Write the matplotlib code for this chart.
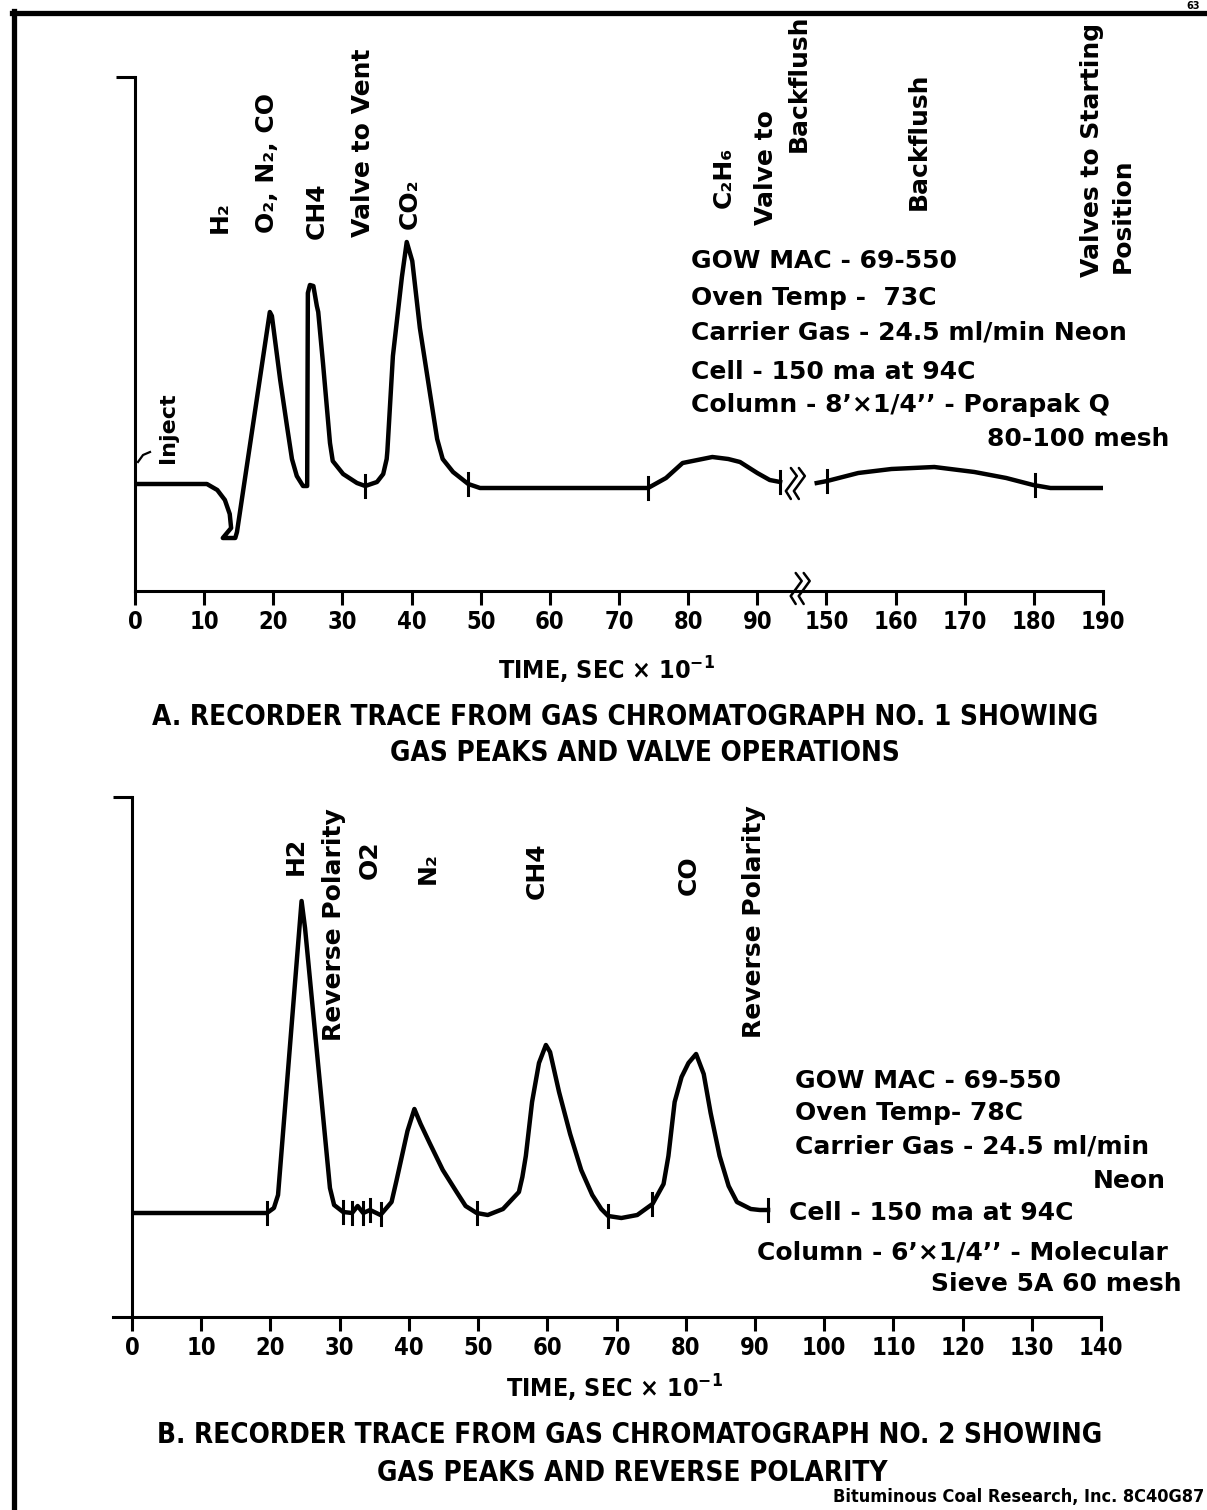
import numpy as np
import matplotlib
matplotlib.use("Agg")
import matplotlib.pyplot as plt
from matplotlib import font_manager

W, H = 1207, 1510

# ---- chart A: GC no. 1, time in sec x 10^-1, response
a_time_1 = [0, 10.4, 11.9, 13.0, 13.7, 13.9, 12.7, 14.5, 14.75, 19.5, 19.8, 21.0, 22.0, 22.7,
            23.4, 24.3, 24.9, 25.0, 25.3, 25.8, 26.3, 26.5, 27.2, 28.2, 28.6, 30.1, 32.1, 33.3,
            35.0, 35.9, 36.4, 36.5, 37.3, 38.6, 39.3, 40.1, 41.2, 42.7, 43.7, 44.5, 46.0, 48.2,
            49.9, 74.2, 76.8, 79.2, 83.5, 85.8, 87.5, 90.0, 91.8, 93.3]
a_resp_1 = [0.02, 0.02, -0.04, -0.14, -0.28, -0.42, -0.52, -0.52, -0.46, 1.74, 1.70, 1.06, 0.59, 0.27,
            0.10, 0.0, 0.0, 1.93, 2.01, 2.00, 1.80, 1.74, 1.22, 0.43, 0.25, 0.12, 0.03, 0.0,
            0.04, 0.12, 0.27, 0.35, 1.30, 2.09, 2.44, 2.25, 1.58, 0.91, 0.47, 0.27, 0.14, 0.02,
            -0.02, -0.02, 0.08, 0.23, 0.29, 0.27, 0.24, 0.13, 0.06, 0.04]
a_time_2 = [148.6, 150.1, 154.6, 159.4, 165.6, 171.4, 176.0, 179.9, 182.4, 190.0]
a_resp_2 = [0.03, 0.05, 0.13, 0.17, 0.19, 0.14, 0.08, 0.01, -0.02, -0.02]
a_marks = [33.3, 48.2, 74.2, 93.3, 150.1, 180.2]
a_ticks = [0, 10, 20, 30, 40, 50, 60, 70, 80, 90, 150, 160, 170, 180, 190]
a_break = 95.0   # where the time scale jumps from 90 to 150

# ---- chart B: GC no. 2
b_time = [0, 19.5, 20.5, 21.1, 22.8, 24.5, 25.0, 28.6, 29.2, 30.5, 31.8, 32.6, 33.4, 34.4,
          35.9, 37.5, 38.2, 39.8, 40.8, 41.7, 43.0, 44.9, 46.9, 48.2, 49.8, 51.4, 53.6, 55.9,
          56.4, 56.9, 57.8, 58.8, 59.8, 60.4, 61.7, 63.3, 64.9, 66.5, 67.8, 68.8, 70.7, 73.0,
          75.2, 76.8, 77.5, 78.4, 79.4, 80.4, 81.5, 82.6, 83.6, 84.9, 86.2, 87.4, 89.4, 90.7, 91.9]
b_resp = [0, 0, 0.05, 0.18, 1.65, 3.12, 2.85, 0.25, 0.08, 0.01, 0.0, 0.07, 0.0, 0.03,
          -0.02, 0.11, 0.32, 0.82, 1.04, 0.89, 0.70, 0.43, 0.21, 0.07, 0.0, -0.02, 0.04, 0.21,
          0.36, 0.57, 1.11, 1.50, 1.68, 1.61, 1.21, 0.79, 0.43, 0.18, 0.04, -0.03, -0.05, -0.02,
          0.09, 0.29, 0.57, 1.11, 1.36, 1.50, 1.59, 1.39, 1.00, 0.57, 0.27, 0.11, 0.04, 0.03, 0.03]
b_marks = [19.5, 30.5, 31.8, 33.4, 34.4, 36.0, 49.8, 68.8, 75.2, 91.9]
b_ticks = list(range(0, 150, 10))

inject_t = [0.43, 1.16, 2.17]
inject_v = [0.24, 0.31, 0.34]

# fonts
names = {(f.name, str(f.stretch)) for f in font_manager.fontManager.ttflist}
if ('DejaVu Sans', 'condensed') in names:
    cond = dict(family='DejaVu Sans', stretch='condensed', weight='bold')
elif any(n == 'Liberation Sans Narrow' for n, s in names):
    cond = dict(family='Liberation Sans Narrow', weight='bold')
else:
    cond = dict(family='DejaVu Sans', weight='bold')
bold = dict(family='DejaVu Sans', weight='bold')
plt.rcParams['mathtext.default'] = 'regular'

LW = 3.2
AX_LW = 2.2

fig = plt.figure(figsize=(W / 100, H / 100), dpi=100)


def ftext(x, y, s, **kw):
    return fig.text(x / W, 1 - y / H, s, **kw)


def make_axes(left, right, top, bottom, ylo, yhi):
    ax = fig.add_axes([left / W, 1 - bottom / H, (right - left) / W, (bottom - top) / H])
    ax.set_xlim(0, 140)
    ax.set_ylim(ylo, yhi)
    for s in ['top', 'right']:
        ax.spines[s].set_visible(False)
    for s in ['left', 'bottom']:
        ax.spines[s].set_linewidth(AX_LW)
    ax.set_yticks([yhi])
    ax.set_yticklabels([])
    ax.tick_params(axis='y', direction='out', length=13.5, width=AX_LW)
    ax.tick_params(axis='x', direction='out', length=10, width=AX_LW, pad=4)
    ax.patch.set_alpha(0)
    return ax


def zigzag(ax, u, v, px_per_u, px_per_v):
    # little wavy break mark, offsets in pixels
    dx = np.array([-1, 5, -3, -6, -1])
    dy = np.array([-18, -10, 1, 5, 13])
    for shift in (0, 8):
        ax.plot(u + (dx + shift) / px_per_u, v - dy / px_per_v, color='k', lw=1.8,
                clip_on=False, solid_capstyle='round')


def a_pos(t):
    t = np.asarray(t, dtype=float)
    return np.where(t > 120, t - 50, t)


# ---------------- chart A ----------------
axA = make_axes(135, 1103, 77, 591, -1.05, 4.09)
pxu_a = (1103 - 135) / 140
axA.plot(a_pos(a_time_1), a_resp_1, color='k', lw=LW, solid_joinstyle='round')
axA.plot(a_pos(a_time_2), a_resp_2, color='k', lw=LW, solid_joinstyle='round')
for m in a_marks:
    lev = np.interp(m, a_time_2, a_resp_2) if m > 120 else np.interp(m, a_time_1, a_resp_1)
    axA.plot([a_pos(m)] * 2, [lev - 0.11, lev + 0.11], color='k', lw=2.2)
axA.plot(inject_t, inject_v, color='k', lw=1.6)
zigzag(axA, a_break, 0.0, pxu_a, 100)
zigzag(axA, a_break + 0.7, -1.05, pxu_a, 100)
axA.set_xticks(a_pos(a_ticks))
axA.set_xticklabels([str(t) for t in a_ticks], fontsize=17, **cond)

# ---------------- chart B ----------------
axB = make_axes(132, 1101, 797, 1317, -1.04, 4.16)
axB.plot(b_time, b_resp, color='k', lw=LW, solid_joinstyle='round')
for m in b_marks:
    lev = np.interp(m, b_time, b_resp)
    axB.plot([m, m], [lev - 0.11, lev + 0.11], color='k', lw=2.2)
axB.plot([-2.8, 0], [-1.04, -1.04], color='k', lw=AX_LW, clip_on=False)
axB.set_xticks(b_ticks)
axB.set_xticklabels([str(t) for t in b_ticks], fontsize=17, **cond)

# ---------------- labels ----------------
rot_a = [("Inject", 168, 463, 16), ("H₂", 220, 233, 18), ("O₂, N₂, CO", 267, 233, 18),
         ("CH4", 317, 239, 18), ("Valve to Vent", 363, 237, 18), ("CO₂", 410, 229, 18),
         ("C₂H₆", 724, 208, 18), ("Valve to", 766, 225, 18), ("Backflush", 799, 152, 18),
         ("Backflush", 919, 210, 18), ("Valves to Starting", 1092, 277, 18),
         ("Position", 1123, 273, 18)]
rot_b = [("H2", 296, 875, 18), ("Reverse Polarity", 334, 1041, 18), ("O2", 370, 879, 18),
         ("N₂", 428, 884, 18), ("CH4", 537, 899, 18), ("CO", 689, 895, 18),
         ("Reverse Polarity", 754, 1038, 18)]
for s, x, y, fs in rot_a + rot_b:
    ftext(x, y, s, rotation=90, ha='center', va='bottom', fontsize=fs, **bold)

block_a = [("GOW MAC - 69-550", 691, 261, 'left'), ("Oven Temp -  73C", 691, 298, 'left'),
           ("Carrier Gas - 24.5 ml/min Neon", 691, 332, 'left'),
           ("Cell - 150 ma at 94C", 691, 372, 'left'),
           ("Column - 8’×1/4’’ - Porapak Q", 691, 405, 'left'),
           ("80-100 mesh", 1169, 439, 'right')]
block_b = [("GOW MAC - 69-550", 795, 1081, 'left'), ("Oven Temp- 78C", 795, 1113, 'left'),
           ("Carrier Gas - 24.5 ml/min", 795, 1147, 'left'), ("Neon", 1166, 1181, 'right'),
           ("Cell - 150 ma at 94C", 789, 1213, 'left'),
           ("Column - 6’×1/4’’ - Molecular", 757, 1252, 'left'),
           ("Sieve 5A 60 mesh", 1182, 1284, 'right')]
for s, x, y, ha in block_a + block_b:
    ftext(x, y, s, ha=ha, va='center', fontsize=18, **bold)

ftext(607, 670, "TIME, SEC × 10$^{-1}$", ha='center', va='center', fontsize=18, **cond)
ftext(625, 717, "A. RECORDER TRACE FROM GAS CHROMATOGRAPH NO. 1 SHOWING",
      ha='center', va='center', fontsize=20, **cond)
ftext(645, 753, "GAS PEAKS AND VALVE OPERATIONS", ha='center', va='center', fontsize=20, **cond)
ftext(615, 1388, "TIME, SEC × 10$^{-1}$", ha='center', va='center', fontsize=18, **cond)
ftext(630, 1435, "B. RECORDER TRACE FROM GAS CHROMATOGRAPH NO. 2 SHOWING",
      ha='center', va='center', fontsize=20, **cond)
ftext(632, 1473, "GAS PEAKS AND REVERSE POLARITY", ha='center', va='center', fontsize=20, **cond)
ftext(1204, 1497, "Bituminous Coal Research, Inc. 8C40G87", ha='right', va='center',
      fontsize=13, **cond)
ftext(1200, 1, "63", ha='right', va='top', fontsize=7, **bold)

# page frame from the scanned sheet
fig.add_artist(plt.Line2D([12 / W, 1], [1 - 13 / H] * 2, color='k', lw=3.8))
fig.add_artist(plt.Line2D([14 / W] * 2, [0, 1 - 11 / H], color='k', lw=3.8))

fig.savefig("out.png", dpi=100)
